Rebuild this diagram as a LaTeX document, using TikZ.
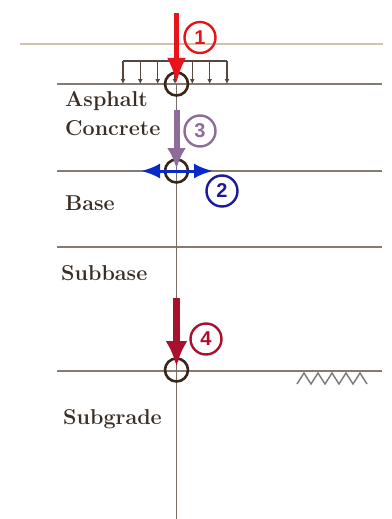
\documentclass[tikz,border=0pt]{standalone}
\usepackage{fontspec}
\newfontfamily\numfont{Liberation Sans}
\usetikzlibrary{arrows.meta}
\definecolor{layerline}{HTML}{857B70}
\definecolor{topline}{HTML}{CFC3AA}
\definecolor{labeltext}{HTML}{3A2E25}
\definecolor{ringbrown}{HTML}{3A2618}
\definecolor{loadred}{HTML}{E8141C}
\definecolor{shearblue}{HTML}{0A2AC8}
\definecolor{numblue}{HTML}{1A1A9A}
\definecolor{comppurple}{HTML}{8E6C9A}
\definecolor{subred}{HTML}{A8102C}
\definecolor{hatchgrey}{HTML}{7A7670}
\begin{document}
\begin{tikzpicture}[x=1pt,y=-1pt,
  layer/.style={draw=layerline, line width=1.3pt},
  lbl/.style={anchor=base west, inner sep=0pt, text=labeltext,
    font=\fontsize{21.5}{25}\selectfont\bfseries},
  ring/.style={circle, draw=ringbrown, line width=2.6pt, minimum size=23pt, inner sep=0pt},
  numring/.style={circle, draw=#1, text=#1, line width=2.4pt, minimum size=31pt,
    inner sep=0pt, font=\numfont\bfseries\fontsize{20}{20}\selectfont},
  udl/.style={draw=ringbrown!85, line width=1.3pt, -{Latex[length=5pt,width=5pt]}},
  bigarrow/.style={line width=#1},
]
\useasboundingbox (0,0) rectangle (391,519);

% surface and layer boundaries
\draw[draw=topline, line width=1.5pt] (20,44) -- (383,44);
\draw[layer] (57,84) -- (382,84);
\draw[layer] (57,171) -- (382,171);
\draw[layer] (57,247) -- (382,247);
\draw[layer] (57,371) -- (382,371);

% centre line
\coordinate (axtop) at (176.5,84);
\coordinate (axbot) at (176.5,519);
\draw[draw=layerline!90!black, line width=1.3pt] (axtop) -- (axbot);

% subgrade hatching
\draw[hatchgrey, line width=1.4pt]
  (297,384) -- (304,373) -- (311,384) -- (318,373) -- (325,384) -- (332,373)
  -- (339,384) -- (346,373) -- (353,384) -- (360,373) -- (367,384);

% layer names
\node[lbl] (asph) at (65,106) {Asphalt};
\node[lbl] (conc) at (65,135) {Concrete};
\node[lbl] (base) at (65,210) {Base};
\node[lbl] (subb) at (61,280) {Subbase};
\node[lbl] (subg) at (63,424) {Subgrade};

% critical points on the centre line
\node[ring] (r1) at (176.5,84) {};
\node[ring] (r2) at (176.5,171) {};
\node[ring] (r4) at (176.5,370) {};

% distributed wheel load
\coordinate (ldl) at (123,61);
\coordinate (ldr) at (227,61);
\draw[draw=ringbrown!85, line width=1.3pt] (ldl) -- (ldr);
\foreach \i [count=\k] in {123,140.3,157.7,175,192.3,209.7,227}{
  \coordinate (lt\k) at (\i,61);
  \coordinate (lb\k) at (\i,84);
  \draw[udl] (lt\k) -- (lb\k);
}

% 1: surface deflection
\coordinate (a1top) at (176.5,13);
\draw[loadred, bigarrow=5pt, -{Latex[length=26pt,width=19pt]}] (a1top) -- (r1.center);
\node[numring=loadred] (n1) at (200,37.5) {1};

% 3: compressive strain in asphalt
\coordinate (a3top) at (176.5,110);
\coordinate (a3tip) at (176.5,169);
\draw[comppurple, bigarrow=6pt, -{Latex[length=21pt,width=19pt]}] (a3top) -- (a3tip);
\node[numring=comppurple] (n3) at (200,131) {3};

% 2: horizontal tensile strain at bottom of asphalt
\coordinate (a2l) at (141,171);
\coordinate (a2r) at (213,171);
\draw[shearblue, bigarrow=3pt, {Latex[length=19pt,width=15pt]}-{Latex[length=19pt,width=15pt]}] (a2l) -- (a2r);
\node[numring=numblue] (n2) at (222,191) {2};

% 4: vertical compressive strain on subgrade
\coordinate (a4top) at (176.5,298);
\coordinate (a4tip) at (176.5,367);
\draw[subred, bigarrow=6.5pt, -{Latex[length=26pt,width=22pt]}] (a4top) -- (a4tip);
\node[numring=subred] (n4) at (206,339) {4};
\end{tikzpicture}
\end{document}
